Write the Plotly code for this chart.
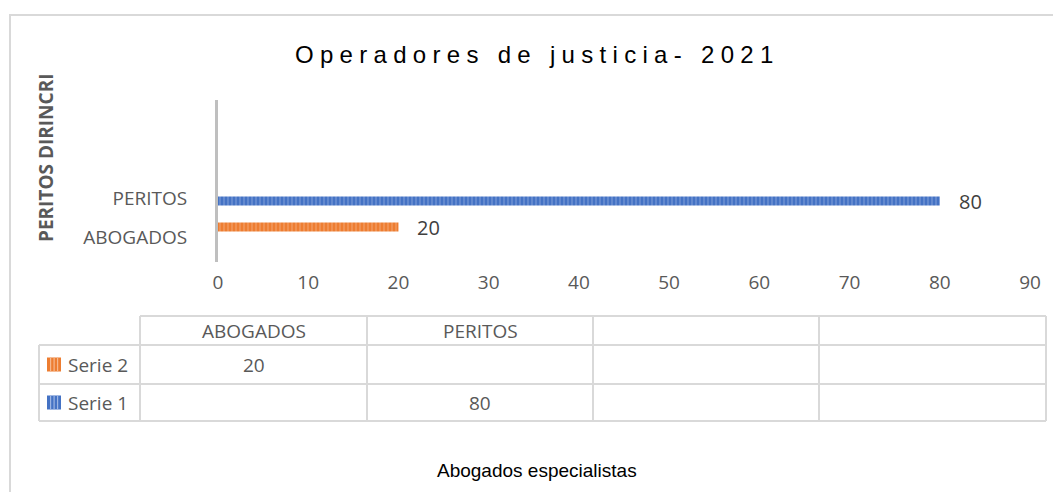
import plotly.graph_objects as go

# ---------------- data ----------------
categories = ["ABOGADOS", "PERITOS"]
serie1_values = [None, 80]   # blue
serie2_values = [20, None]   # orange
series_names = ["Serie 1", "Serie 2"]
x_ticks = [0, 10, 20, 30, 40, 50, 60, 70, 80, 90]
table_columns = ["ABOGADOS", "PERITOS", "", ""]
title_text = "Operadores de justicia- 2021"
y_title_text = "PERITOS DIRINCRI"
x_title_text = "Abogados especialistas"

# ---------------- style ----------------
OFF = 8  # page body margin
W, H = 1061 - OFF, 492 - OFF
PLOT_L, PLOT_R, PLOT_T, PLOT_B = 218, 1030, 100, 262   # in screen pixels
L, T = PLOT_L - OFF, PLOT_T - OFF
PW, PH = PLOT_R - PLOT_L, PLOT_B - PLOT_T
R = W - L - PW
B = H - T - PH
BLUE, BLUE_LT = "#4472c4", "#9db5e3"
ORANGE, ORANGE_LT = "#ed7d31", "#f6b88e"
GRID = "#d9d9d9"
TXT = "#595959"
FONT = "Open Sans"

def px(x):
    return (x - PLOT_L) / PW

def py(y):
    return (PLOT_B - y) / PH

CAT_PX = 39.0      # pixels per category unit
CAT0_Y = 237.0     # screen y of first category
fig = go.Figure()

bar_width = 0.23
off2 = 10 / CAT_PX - bar_width / 2    # Serie 2 (orange) offset within its category
off1 = -3 / CAT_PX - bar_width / 2    # Serie 1 (blue) offset within its category

fig.add_trace(go.Bar(
    name=series_names[1], y=categories, x=serie2_values, orientation="h",
    width=bar_width, offset=off2,
    marker=dict(color=ORANGE, line=dict(width=0),
                pattern=dict(shape="|", fgcolor=ORANGE_LT, size=4, solidity=0.35, fillmode="overlay")),
    showlegend=False, hoverinfo="x+y",
))
fig.add_trace(go.Bar(
    name=series_names[0], y=categories, x=serie1_values, orientation="h",
    width=bar_width, offset=off1,
    marker=dict(color=BLUE, line=dict(width=0),
                pattern=dict(shape="|", fgcolor=BLUE_LT, size=4, solidity=0.35, fillmode="overlay")),
    showlegend=False, hoverinfo="x+y",
))

annotations = []
shapes = []

# data labels
for vals, off in ((serie2_values, off2), (serie1_values, off1)):
    for cat, v in zip(categories, vals):
        if v is None:
            continue
        annotations.append(dict(
            x=v, y=cat, xref="x", yref="y", text=str(v), showarrow=False,
            xanchor="left", xshift=17, yshift=(off + bar_width / 2) * CAT_PX,
            font=dict(family=FONT, size=20, color="#404040"),
        ))

# title
annotations.append(dict(
    x=px(537), y=py(54), xref="paper", yref="paper", showarrow=False,
    text='<span style="letter-spacing:6.3px">' + title_text + '</span>',
    font=dict(family="Liberation Sans", size=24, color="#000000"),
    xanchor="center", yanchor="middle",
))
# y title
annotations.append(dict(
    x=px(46), y=py(158), xref="paper", yref="paper", showarrow=False,
    text="<b>" + y_title_text + "</b>", textangle=-90,
    font=dict(family=FONT, size=19, color=TXT), xanchor="center", yanchor="middle",
))
# x title (bottom)
annotations.append(dict(
    x=px(537), y=py(470), xref="paper", yref="paper", showarrow=False,
    text=x_title_text, font=dict(family="Liberation Sans", size=19, color="#000000"),
    xanchor="center", yanchor="middle",
))

# ---------------- data table ----------------
col_edges = [140, 367, 593, 819, 1046]
row_edges = [316, 345, 384, 421]
left_edge = 39

def line(x0, y0, x1, y1):
    shapes.append(dict(type="line", xref="paper", yref="paper",
                       x0=px(x0), y0=py(y0), x1=px(x1), y1=py(y1),
                       line=dict(color=GRID, width=2)))

line(col_edges[0], row_edges[0], col_edges[-1], row_edges[0])
for ry in row_edges[1:]:
    line(left_edge, ry, col_edges[-1], ry)
line(left_edge, row_edges[1], left_edge, row_edges[-1])
for cx in col_edges:
    line(cx, row_edges[0], cx, row_edges[-1])

for i, name in enumerate(table_columns):
    if name:
        annotations.append(dict(
            x=px((col_edges[i] + col_edges[i + 1]) / 2), y=py((row_edges[0] + row_edges[1]) / 2),
            xref="paper", yref="paper", text=name, showarrow=False,
            font=dict(family=FONT, size=19, color=TXT), xanchor="center", yanchor="middle"))

table_rows = [(series_names[1], serie2_values, ORANGE, ORANGE_LT),
              (series_names[0], serie1_values, BLUE, BLUE_LT)]
for r, (name, vals, col, col_lt) in enumerate(table_rows):
    yc = (row_edges[r + 1] + row_edges[r + 2]) / 2
    # legend key
    shapes.append(dict(type="rect", xref="paper", yref="paper",
                       x0=px(47), x1=px(61), y0=py(yc - 7), y1=py(yc + 7),
                       fillcolor=col, line=dict(width=0)))
    for sx in (50, 53.5, 57):
        shapes.append(dict(type="rect", xref="paper", yref="paper",
                           x0=px(sx), x1=px(sx + 1.2), y0=py(yc - 7), y1=py(yc + 7),
                           fillcolor=col_lt, line=dict(width=0)))
    annotations.append(dict(
        x=px(66), y=py(yc), xref="paper", yref="paper", text=name, showarrow=False,
        font=dict(family=FONT, size=19, color=TXT), xanchor="left", yanchor="middle"))
    for i, v in enumerate(vals):
        if v is None:
            continue
        annotations.append(dict(
            x=px((col_edges[i] + col_edges[i + 1]) / 2), y=py(yc),
            xref="paper", yref="paper", text=str(v), showarrow=False,
            font=dict(family=FONT, size=19, color=TXT), xanchor="center", yanchor="middle"))

# outer chart border
shapes.append(dict(type="rect", xref="paper", yref="paper",
                   x0=px(10), y0=py(15), x1=px(1075), y1=py(505),
                   line=dict(color=GRID, width=2), fillcolor="rgba(0,0,0,0)"))

y_lo = (CAT0_Y - PLOT_B) / CAT_PX
y_hi = (CAT0_Y - PLOT_T) / CAT_PX

fig.update_layout(
    width=W, height=H, margin=dict(l=L, r=R, t=T, b=B, pad=0),
    paper_bgcolor="white", plot_bgcolor="white",
    barmode="overlay",
    xaxis=dict(range=[0, 90], tickvals=x_ticks, showgrid=False, zeroline=False,
               showline=False, ticks="", ticklabelstandoff=7,
               tickfont=dict(family=FONT, size=19, color=TXT), fixedrange=True),
    yaxis=dict(type="category", categoryorder="array", categoryarray=categories,
               range=[y_lo, y_hi], showgrid=False, zeroline=False,
               showline=True, linecolor="#bfbfbf", linewidth=3, ticks="",
               ticklabelstandoff=24,
               tickfont=dict(family=FONT, size=19, color=TXT), fixedrange=True),
    annotations=annotations, shapes=shapes,
    showlegend=False,
)

fig.write_html("out.html")
